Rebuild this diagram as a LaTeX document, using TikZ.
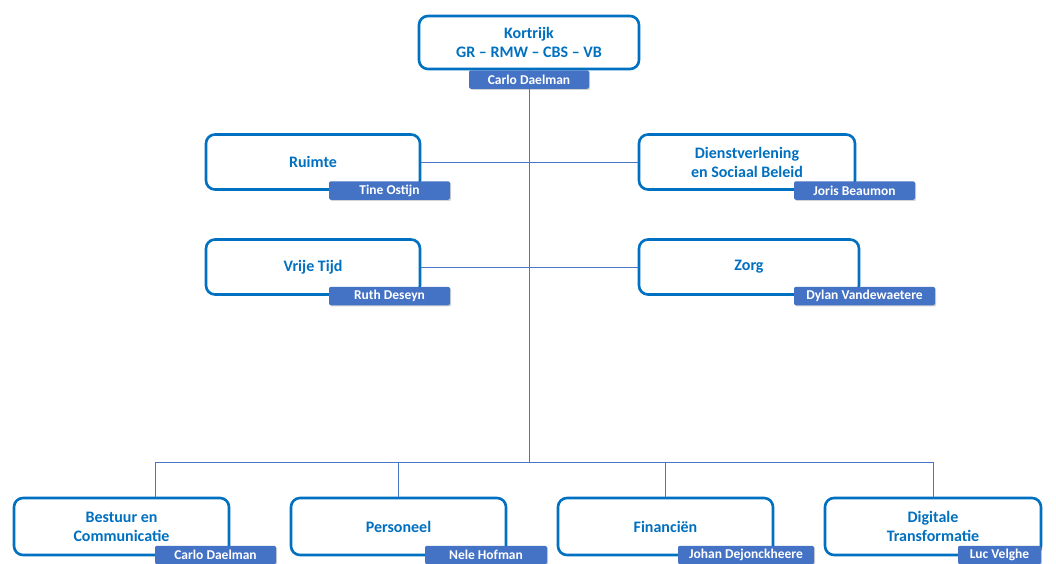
\documentclass[tikz,border=0pt]{standalone}
\usepackage{fontspec}
\setmainfont{Carlito}
\usetikzlibrary{shadows}
\definecolor{unitblue}{HTML}{0070C0}
\definecolor{tagblue}{HTML}{4472C4}
\definecolor{lineblue}{HTML}{4A76C6}

\begin{document}
\begin{tikzpicture}[x=1pt,y=-1pt]
  \tikzset{unit box/.style={draw=unitblue,line width=2.6pt,rounded corners=9pt,fill=white,
      minimum width=#1,minimum height=55pt,align=center,text=unitblue,
      font=\fontsize{16}{19}\selectfont\bfseries,inner sep=0pt,
      drop shadow={opacity=0.25,shadow xshift=0.8pt,shadow yshift=-0.8pt}},
    name tag/.style={fill=tagblue,rounded corners=2pt,minimum width=#1,minimum height=18.5pt,
      inner sep=0pt,text=white,font=\fontsize{13.5}{15}\selectfont\bfseries,
      drop shadow={opacity=0.35,shadow xshift=1.2pt,shadow yshift=-1.2pt}},
    link/.style={draw=lineblue,line width=0.8pt}}

  \useasboundingbox (0,0) rectangle (1056,563);

  \node [unit box=220pt,minimum height=53pt] (top) at (529,42.5) {Kortrijk\\GR -- RMW -- CBS -- VB};
  \node [unit box=214pt] (ruimte) at (313,162) {Ruimte};
  \node [unit box=216pt] (dienst) at (747,162) {Dienstverlening\\en Sociaal Beleid};
  \node [unit box=214pt] (vrijetijd) at (313,267) {Vrije Tijd};
  \node [unit box=220pt] (zorg) at (749,267) {Zorg};
  \node [unit box=215pt,minimum height=57pt] (bestuur) at (121.5,526.5) {Bestuur en\\Communicatie};
  \node [unit box=215pt,minimum height=57pt] (personeel) at (398.5,526.5) {Personeel};
  \node [unit box=215pt,minimum height=57pt] (financien) at (665.5,526.5) {Financiën};
  \node [unit box=216pt,minimum height=57pt] (digitaal) at (933,526.5) {Digitale\\Transformatie};

  \coordinate (bus) at (529,462);
  \draw [link] (top.south) -- (bus);
  \draw [link] (ruimte.east) -- (dienst.west);
  \draw [link] (vrijetijd.east) -- (zorg.west);
  \draw [link] (bus) -| ([xshift=33.5pt]bestuur.north);
  \draw [link] (bus) -| (personeel.north);
  \draw [link] (bus) -| (financien.north);
  \draw [link] (bus) -| (digitaal.north);

  \node [name tag=120pt] (topname) at (529,79.5) {Carlo Daelman};
  \node [name tag=121pt] (ruimtename) at (389.5,190.5) {Tine Ostijn};
  \node [name tag=121pt] (dienstname) at (854.5,190.5) {Joris Beaumon};
  \node [name tag=121pt] (vrijetijdname) at (389.5,296) {Ruth Deseyn};
  \node [name tag=141pt] (zorgname) at (864.5,296) {Dylan Vandewaetere};
  \node [name tag=121pt] (bestuurname) at (215.5,555) {Carlo Daelman};
  \node [name tag=122pt] (personeelname) at (486,555) {Nele Hofman};
  \node [name tag=136pt] (financienname) at (746,555) {Johan Dejonckheere};
  \node [name tag=83pt] (digitaalname) at (999.5,555) {Luc Velghe};
\end{tikzpicture}
\end{document}
